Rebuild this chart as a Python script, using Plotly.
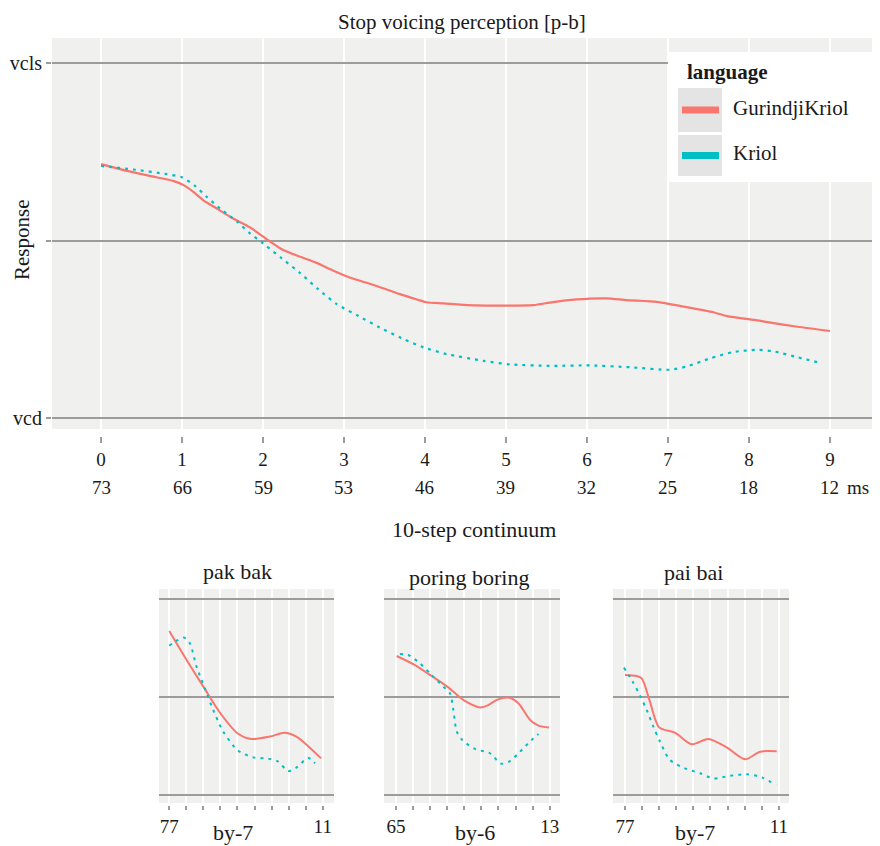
import plotly.graph_objects as go

# ---------------- data ----------------
steps = list(range(10))
step_labels = [str(s) for s in steps]
ms_labels = ["73", "66", "59", "53", "46", "39", "32", "25", "18", "12"]
ms_unit = "ms"
y_tickvals = [0, 0.5, 1]
y_ticktext = ["vcd", "", "vcls"]
languages = ["GurindjiKriol", "Kriol"]

# main panel: smoothed response curves (step continuum)
gk_x = [0, 0.32, 0.6, 0.89, 1.02, 1.14, 1.26, 1.43, 1.63, 1.84, 2.05, 2.25, 2.46, 2.66, 2.87,
        3.07, 3.28, 3.49, 3.69, 3.9, 4.02, 4.23, 4.64, 5.34, 5.54, 5.87, 6.24, 6.49, 6.86,
        7.19, 7.56, 7.73, 8.1, 8.23, 8.6, 9.0]
gk_y = [0.715, 0.696, 0.682, 0.668, 0.656, 0.637, 0.614, 0.59, 0.562, 0.537, 0.503, 0.473,
        0.454, 0.437, 0.415, 0.396, 0.381, 0.365, 0.349, 0.334, 0.326, 0.323, 0.317, 0.318,
        0.325, 0.334, 0.337, 0.332, 0.327, 0.314, 0.298, 0.287, 0.275, 0.27, 0.257, 0.245]
kr_x = [0, 0.4, 0.81, 1.0, 1.16, 1.3, 1.47, 1.68, 1.84, 2.0, 2.23, 2.46, 2.68, 2.91, 3.18,
        3.44, 3.71, 3.98, 4.27, 4.72, 5.05, 5.54, 6.04, 6.53, 7.02, 7.23, 7.52, 7.81, 8.1,
        8.3, 8.6, 8.87]
kr_y = [0.71, 0.7, 0.687, 0.678, 0.654, 0.624, 0.59, 0.553, 0.52, 0.492, 0.45, 0.408, 0.363,
        0.321, 0.287, 0.255, 0.225, 0.199, 0.18, 0.161, 0.151, 0.147, 0.148, 0.143, 0.136,
        0.145, 0.168, 0.186, 0.192, 0.188, 0.171, 0.156]

# small panels
words = ["pak bak", "poring boring", "pai bai"]
first_ms = ["77", "65", "77"]
last_ms = ["11", "13", "11"]
step_size = ["by-7", "by-6", "by-7"]

pak_gk_x = [0, 1.02, 2, 3, 4, 4.8, 5.9, 6.75, 7.45, 8.9]
pak_gk_y = [0.837, 0.689, 0.553, 0.417, 0.315, 0.286, 0.298, 0.318, 0.298, 0.187]
pak_kr_x = [0, 0.43, 0.88, 1.21, 1.6, 2.09, 2.58, 3.17, 4.05, 4.93, 5.81, 6.34, 6.99, 7.47, 8.15, 8.55]
pak_kr_y = [0.762, 0.787, 0.803, 0.774, 0.655, 0.544, 0.434, 0.323, 0.226, 0.192, 0.185, 0.173,
            0.122, 0.141, 0.189, 0.162]

por_gk_x = [0.04, 1.11, 2.09, 3.06, 3.94, 4.92, 5.41, 5.9, 6.58, 7.16, 7.85, 8.34, 8.96]
por_gk_y = [0.709, 0.663, 0.607, 0.549, 0.485, 0.447, 0.459, 0.485, 0.497, 0.468, 0.383, 0.354, 0.344]
por_kr_x = [0.23, 0.72, 1.4, 2.09, 2.77, 3.16, 3.36, 3.56, 3.88, 4.63, 5.5, 6.15, 6.67, 7.26, 7.94, 8.34]
por_kr_y = [0.719, 0.714, 0.672, 0.612, 0.553, 0.519, 0.434, 0.323, 0.281, 0.235, 0.213, 0.16,
            0.173, 0.221, 0.281, 0.311]

pai_gk_x = [0, 0.68, 0.98, 1.46, 2.0, 2.92, 3.9, 4.87, 5.95, 7.02, 7.9, 8.87]
pai_gk_y = [0.612, 0.607, 0.595, 0.476, 0.345, 0.318, 0.259, 0.286, 0.243, 0.182, 0.221, 0.223]
pai_kr_x = [-0.06, 0.45, 0.88, 1.27, 1.66, 2.05, 2.63, 3.51, 4.39, 5.16, 6.14, 7.12, 8.0, 8.83]
pai_kr_y = [0.65, 0.578, 0.507, 0.434, 0.349, 0.272, 0.179, 0.136, 0.111, 0.085, 0.098, 0.106,
            0.09, 0.051]

small_gk = [(pak_gk_x, pak_gk_y), (por_gk_x, por_gk_y), (pai_gk_x, pai_gk_y)]
small_kr = [(pak_kr_x, pak_kr_y), (por_kr_x, por_kr_y), (pai_kr_x, pai_kr_y)]

# ---------------- style ----------------
OFF = 8  # page body margin of the html page
W, H = 880 - OFF, 846 - OFF
FONT = "Liberation Serif"
TXT = "#1a1a1a"
RED = "#F8766D"
TEAL = "#00BFC4"
BG = "#F0F0EF"
GRAY = "#9C9C9C"
DOT = "3px,5px"


def px(xp):
    return (xp - OFF) / W


def py(yp):
    return 1 - (yp - OFF) / H


fig = go.Figure()

fig.add_trace(go.Scatter(x=gk_x, y=gk_y, mode="lines", name=languages[0],
                         line=dict(color=RED, width=2.2, shape="spline", smoothing=0.6),
                         xaxis="x", yaxis="y", showlegend=False))
fig.add_trace(go.Scatter(x=kr_x, y=kr_y, mode="lines", name=languages[1],
                         line=dict(color=TEAL, width=2.2, dash=DOT, shape="spline", smoothing=0.6),
                         xaxis="x", yaxis="y", showlegend=False))

for i in range(3):
    xa = "x%d" % (i + 2)
    ya = "y%d" % (i + 2)
    fig.add_trace(go.Scatter(x=small_gk[i][0], y=small_gk[i][1], mode="lines", name=languages[0],
                             line=dict(color=RED, width=2, shape="spline", smoothing=0.8),
                             xaxis=xa, yaxis=ya, showlegend=False))
    fig.add_trace(go.Scatter(x=small_kr[i][0], y=small_kr[i][1], mode="lines", name=languages[1],
                             line=dict(color=TEAL, width=2, dash=DOT, shape="spline", smoothing=0.8),
                             xaxis=xa, yaxis=ya, showlegend=False))

layout = dict(
    width=W, height=H,
    margin=dict(l=0, r=0, t=0, b=0),
    paper_bgcolor="white",
    plot_bgcolor="rgba(0,0,0,0)",
    font=dict(family=FONT, color=TXT, size=19),
    showlegend=False,
)

layout["xaxis"] = dict(
    domain=[px(52), px(878)], range=[-0.605, 9.593], anchor="y",
    tickmode="array", tickvals=steps, ticktext=step_labels,
    showgrid=True, gridcolor="white", gridwidth=2,
    ticks="outside", ticklen=6, tickwidth=1.5, tickcolor=GRAY,
    zeroline=False, showline=False, tickfont=dict(size=19, color=TXT),
)
layout["yaxis"] = dict(
    domain=[py(436), py(38)], range=[-0.0507, 1.0704], anchor="x",
    tickmode="array", tickvals=y_tickvals, ticktext=y_ticktext,
    showgrid=True, gridcolor=GRAY, gridwidth=2,
    ticks="outside", ticklen=5, tickwidth=2, tickcolor=GRAY,
    zeroline=False, showline=False, tickfont=dict(size=20, color=TXT),
)

small_dom = [(159, 334), (384, 560), (613, 789)]
small_rng = [(-0.6, 9.66), (-0.7, 9.6), (-0.7, 9.59)]
for i in range(3):
    n = i + 2
    tt = [first_ms[i]] + [""] * 8 + [last_ms[i]]
    layout["xaxis%d" % n] = dict(
        domain=[px(small_dom[i][0]), px(small_dom[i][1])], range=list(small_rng[i]),
        anchor="y%d" % n, tickmode="array", tickvals=steps, ticktext=tt,
        showgrid=True, gridcolor="white", gridwidth=2,
        ticks="outside", ticklen=4, tickwidth=1.5, tickcolor=GRAY,
        zeroline=False, showline=False, tickfont=dict(size=19, color=TXT),
    )
    layout["yaxis%d" % n] = dict(
        domain=[py(805), py(589)], range=[-0.051, 1.051], anchor="x%d" % n,
        tickmode="array", tickvals=y_tickvals, showticklabels=False, ticks="",
        showgrid=True, gridcolor=GRAY, gridwidth=2, zeroline=False, showline=False,
    )

fig.update_layout(**layout)

shapes = [dict(type="rect", xref="x domain", yref="paper", x0=0, x1=1, y0=py(429), y1=py(38),
               fillcolor=BG, line=dict(width=0), layer="below")]
for i in range(3):
    shapes.append(dict(type="rect", xref="x%d domain" % (i + 2), yref="paper", x0=0, x1=1,
                       y0=py(803), y1=py(589), fillcolor=BG, line=dict(width=0), layer="below"))

# manual legend (ggplot style)
shapes.append(dict(type="rect", xref="paper", yref="paper", x0=px(668), x1=px(872),
                   y0=py(182), y1=py(52), fillcolor="white", line=dict(width=0), layer="above"))
key_cols = [RED, TEAL]
key_tops = [88, 135]
key_bots = [132, 176]
for k in range(2):
    shapes.append(dict(type="rect", xref="paper", yref="paper", x0=px(678), x1=px(722),
                       y0=py(key_bots[k]), y1=py(key_tops[k]), fillcolor="#E4E4E4",
                       line=dict(width=0), layer="above"))
    yc = (key_tops[k] + key_bots[k]) / 2
    shapes.append(dict(type="line", xref="paper", yref="paper", x0=px(682), x1=px(719),
                       y0=py(yc), y1=py(yc), line=dict(color=key_cols[k], width=7), layer="above"))
fig.update_layout(shapes=shapes)

ann = []
ann.append(dict(text="Stop voicing perception [p-b]", x=px(462), y=py(8), xref="paper", yref="paper",
                showarrow=False, font=dict(size=21), xanchor="center", yanchor="top"))
ann.append(dict(text="Response", x=px(22), y=py(240), xref="paper", yref="paper", textangle=-90,
                showarrow=False, font=dict(size=21), xanchor="center", yanchor="middle"))
ann.append(dict(text="10-step continuum", x=px(474), y=py(529), xref="paper", yref="paper",
                showarrow=False, font=dict(size=22), xanchor="center", yanchor="middle"))
for s, lab in zip(steps, ms_labels):
    ann.append(dict(text=lab, x=s, y=py(487), xref="x", yref="paper", showarrow=False,
                    font=dict(size=19), xanchor="center", yanchor="middle"))
ann.append(dict(text=ms_unit, x=px(858), y=py(487), xref="paper", yref="paper", showarrow=False,
                font=dict(size=19), xanchor="center", yanchor="middle"))
ann.append(dict(text="<b>language</b>", x=px(685), y=py(72), xref="paper", yref="paper",
                showarrow=False, font=dict(size=21), xanchor="left", yanchor="middle"))
for k, lang in enumerate(languages):
    ann.append(dict(text=lang, x=px(731), y=py((key_tops[k] + key_bots[k]) / 2 - 2), xref="paper",
                    yref="paper", showarrow=False, font=dict(size=21), xanchor="left", yanchor="middle"))
title_pos = [(238, 571), (469, 577), (693, 572)]
step_pos = [233, 475, 695]
for i in range(3):
    ann.append(dict(text=words[i], x=px(title_pos[i][0]), y=py(title_pos[i][1]), xref="paper",
                    yref="paper", showarrow=False, font=dict(size=22), xanchor="center", yanchor="middle"))
    ann.append(dict(text=step_size[i], x=px(step_pos[i]), y=py(832), xref="paper", yref="paper",
                    showarrow=False, font=dict(size=22), xanchor="center", yanchor="middle"))
fig.update_layout(annotations=ann)

fig.write_html("out.html")
